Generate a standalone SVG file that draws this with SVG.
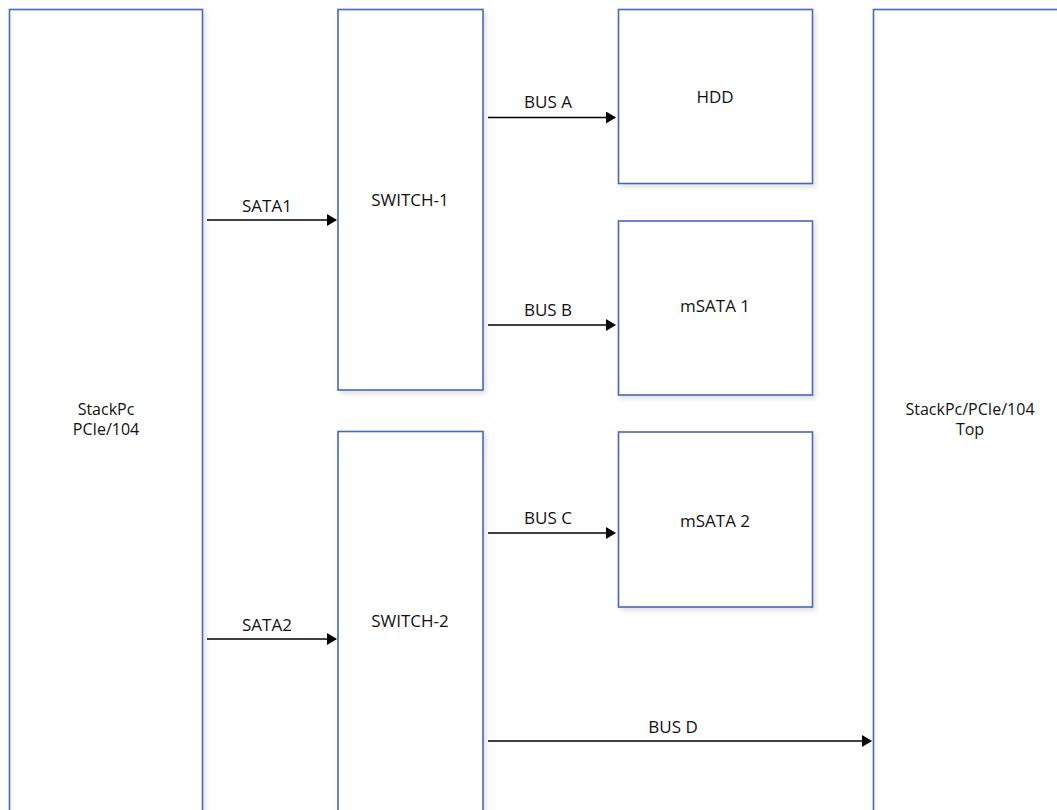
<svg xmlns="http://www.w3.org/2000/svg" width="1057" height="810" viewBox="0 0 1057 810">
  <style>
    .box { fill: #ffffff; stroke: #4767bd; stroke-width: 1.6; filter: url(#shadow); }
    .lbl { font-family: "Open Sans", "Liberation Sans", sans-serif; font-size: 17px; fill: #111111; text-anchor: middle; }
    .lbl2 { font-size: 16px; }
    .conn { stroke: #000000; stroke-width: 1.6; fill: none; marker-end: url(#arrow); }
  </style>
  <defs>
    <filter id="shadow" x="-10%" y="-10%" width="130%" height="130%">
      <feDropShadow dx="2.5" dy="3" stdDeviation="2.5" flood-color="#000000" flood-opacity="0.12"/>
    </filter>
    <marker id="arrow" viewBox="0 0 10 12" refX="9" refY="6" markerWidth="10" markerHeight="12" markerUnits="userSpaceOnUse" orient="auto">
      <path d="M0,0 L10,6 L0,12 Z" fill="#000000"/>
    </marker>
  </defs>
  <rect width="1057" height="810" fill="#ffffff"/>

  <g id="stackpc-bottom">
    <rect class="box" x="9.5" y="9.5" width="193" height="830"/>
    <text class="lbl lbl2" x="106" y="415">StackPc</text>
    <text class="lbl lbl2" x="106" y="435">PCIe/104</text>
  </g>
  <g id="switch-1">
    <rect class="box" x="338" y="9.5" width="145" height="380.5"/>
    <text class="lbl" x="410" y="206">SWITCH-1</text>
  </g>
  <g id="switch-2">
    <rect class="box" x="338" y="431.5" width="145" height="420"/>
    <text class="lbl" x="410" y="627">SWITCH-2</text>
  </g>
  <g id="hdd">
    <rect class="box" x="618.5" y="9.5" width="194" height="174"/>
    <text class="lbl" x="715" y="103">HDD</text>
  </g>
  <g id="msata-1">
    <rect class="box" x="618.5" y="221" width="194" height="174"/>
    <text class="lbl" x="715" y="312">mSATA 1</text>
  </g>
  <g id="msata-2">
    <rect class="box" x="618.5" y="432" width="194" height="175"/>
    <text class="lbl" x="715" y="527">mSATA 2</text>
  </g>
  <g id="stackpc-top">
    <rect class="box" x="873.5" y="9.5" width="193" height="830"/>
    <text class="lbl lbl2" x="970" y="415">StackPc/PCIe/104</text>
    <text class="lbl lbl2" x="970" y="435">Top</text>
  </g>

  <g id="connectors">
    <line class="conn" x1="207" y1="220" x2="336" y2="220"/>
    <text class="lbl" x="267" y="212">SATA1</text>
    <line class="conn" x1="207" y1="639" x2="336" y2="639"/>
    <text class="lbl" x="267" y="631">SATA2</text>
    <line class="conn" x1="488" y1="117.5" x2="615" y2="117.5"/>
    <text class="lbl" x="548" y="108">BUS A</text>
    <line class="conn" x1="488" y1="325" x2="615" y2="325"/>
    <text class="lbl" x="548" y="316">BUS B</text>
    <line class="conn" x1="488" y1="533" x2="615" y2="533"/>
    <text class="lbl" x="548" y="524">BUS C</text>
    <line class="conn" x1="488" y1="741" x2="871" y2="741"/>
    <text class="lbl" x="673" y="733">BUS D</text>
  </g>
</svg>
